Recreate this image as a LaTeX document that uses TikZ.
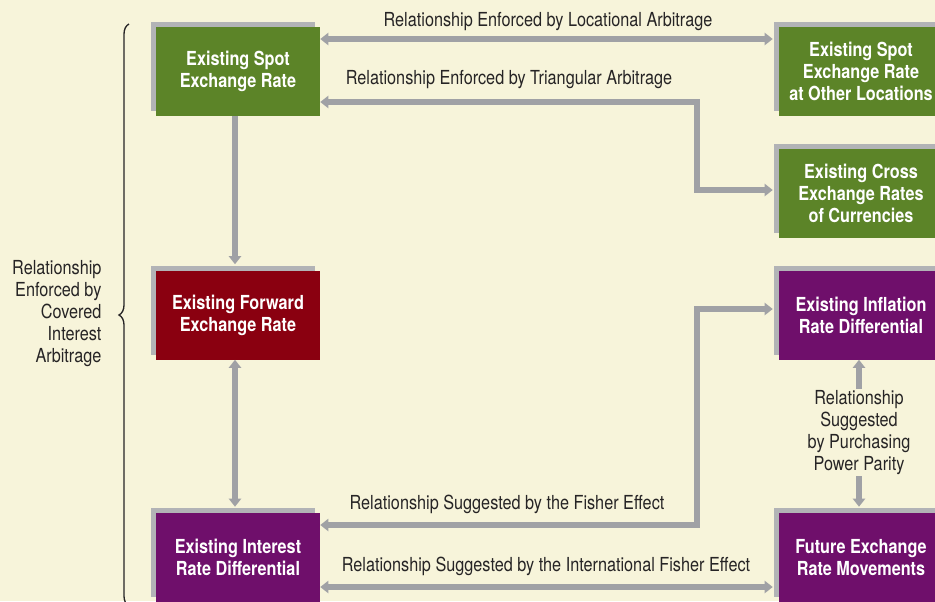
\documentclass[tikz,border=0pt]{standalone}
\usepackage{fontspec}
\usepackage{xcolor}
\usepackage{tikz}
\usetikzlibrary{arrows.meta,shadows,decorations.pathreplacing}
\newfontfamily\condfont{TeX Gyre Heros}[FakeStretch=0.84]
\definecolor{bgcream}{HTML}{F7F4DA}
\definecolor{spotgreen}{HTML}{5C8428}
\definecolor{fwdred}{HTML}{8A0010}
\definecolor{ratepurple}{HTML}{6F0F6B}
\definecolor{shadegrey}{HTML}{B2B3B6}
\definecolor{linkgrey}{HTML}{A0A1A5}
\definecolor{textdark}{HTML}{262425}

\begin{document}
\begin{tikzpicture}[
  x=0.75pt, y=-0.75pt,
  ratebox/.style={align=center, text=white, inner sep=0pt,
    font=\condfont\bfseries\fontsize{14.5}{16.5}\selectfont,
    minimum width=123pt, minimum height=66.75pt,
    drop shadow={shadow xshift=-3.75pt, shadow yshift=3.75pt, fill=shadegrey, opacity=1}},
  greenbox/.style={ratebox, fill=spotgreen},
  redbox/.style={ratebox, fill=fwdred},
  purplebox/.style={ratebox, fill=ratepurple},
  rel/.style={text=textdark, inner sep=1pt, font=\condfont\fontsize{14.5}{16.5}\selectfont},
  tip/.tip={Triangle[length=6pt, width=9pt]},
  link/.style={draw=linkgrey, line width=4.5pt, -tip},
  link2/.style={link, tip-tip}
]
% canvas
\fill[bgcream] (0,0) rectangle (935,601);
\useasboundingbox (0,0) rectangle (935,601);

% boxes
\node[greenbox] (Spot) at (238,71.5) {Existing Spot\\Exchange Rate};
\node[greenbox] (Other) at (861,71.5) {Existing Spot\\Exchange Rate\\at Other Locations};
\node[greenbox] (Cross) at (861,193.5) {Existing Cross\\Exchange Rates\\of Currencies};
\node[redbox] (Forward) at (238,315) {Existing Forward\\Exchange Rate};
\node[purplebox] (Inflation) at (861,315) {Existing Inflation\\Rate Differential};
\node[purplebox] (Interest) at (238,557.5) {Existing Interest\\Rate Differential};
\node[purplebox] (Future) at (861,557.5) {Future Exchange\\Rate Movements};

% routing points
\coordinate (colL) at (235,0);
\coordinate (locY) at (0,39);
\coordinate (triY) at (0,102);
\coordinate (triBend) at (697,190);
\coordinate (fisY) at (0,525);
\coordinate (fisBend) at (697,309);
\coordinate (ifeY) at (0,587);

% connectors
\draw[link2, shorten >=4.5pt] (Spot.east |- locY) -- (Other.west |- locY);
\draw[link2, shorten >=4.5pt] (Spot.east |- triY) -| (triBend) -- (Cross.west |- triBend);
\draw[link, shorten >=4.5pt] (Spot.south -| colL) -- (Forward.north -| colL);
\draw[link2, shorten >=4.5pt] (Forward.south -| colL) -- (Interest.north -| colL);
\draw[link2, shorten >=4.5pt] (Interest.east |- fisY) -| (fisBend) -- (Inflation.west |- fisBend);
\draw[link2, shorten >=4.5pt] (Interest.east |- ifeY) -- (Future.west |- ifeY);

% labels
\node[rel] at (548,22) {Relationship Enforced by Locational Arbitrage};
\node[rel] at (509,80) {Relationship Enforced by Triangular Arbitrage};
\node[rel] at (507,504) {Relationship Suggested by the Fisher Effect};
\node[rel] at (546,566) {Relationship Suggested by the International Fisher Effect};
\node[rel, align=center] (PPP) at (859,432.5) {Relationship\\Suggested\\by Purchasing\\Power Parity};
\draw[link] (PPP.north) -- (Inflation.south -| PPP.north);
\draw[link, shorten >=4.5pt] (PPP.south) -- (Future.north -| PPP.south);

% covered interest arbitrage brace
\node[rel, align=right, anchor=east] (CIA) at (103,314) {Relationship\\Enforced by\\Covered\\Interest\\Arbitrage};
\draw[textdark, line width=1pt, decorate, decoration={brace, amplitude=7.5pt}] (129,606) -- (129,24);
\end{tikzpicture}
\end{document}
